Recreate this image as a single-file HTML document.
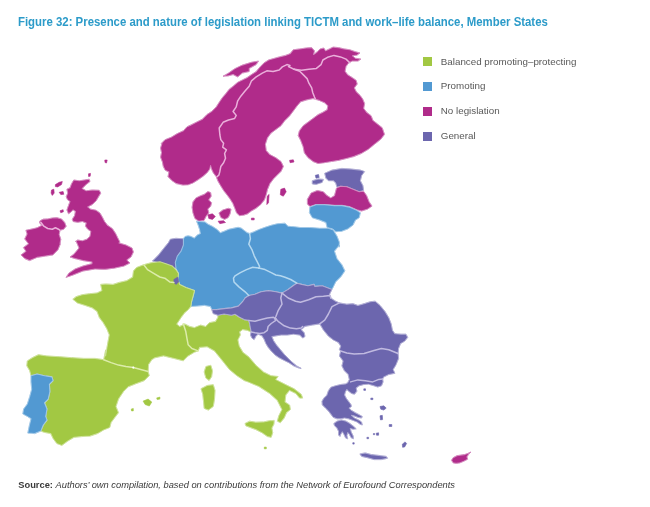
<!DOCTYPE html>
<html><head><meta charset="utf-8"><title>Figure 32</title>
<style>
html,body{margin:0;padding:0;background:#fff;}
body{width:650px;height:507px;position:relative;overflow:hidden;font-family:"Liberation Sans",sans-serif;}
#title,.lt,#src{filter:blur(0.3px);}
#title{position:absolute;left:18.3px;top:15px;font-size:11.9px;transform:scaleX(0.958);font-weight:bold;color:#2c9bc9;white-space:nowrap;transform-origin:0 0;line-height:14px;}
#map{position:absolute;left:0;top:0;filter:blur(0.6px);}
.lg{position:absolute;left:422.8px;width:9px;height:8.8px;}
.lt{position:absolute;left:440.8px;font-size:9.8px;color:#585858;white-space:nowrap;line-height:12px;transform-origin:0 0;}
#src{position:absolute;left:18.3px;top:478.5px;font-size:9.3px;color:#3a3a3a;white-space:nowrap;line-height:12px;transform-origin:0 0;}
</style></head><body>
<div id="title">Figure 32: Presence and nature of legislation linking TICTM and work–life balance, Member States</div>
<svg id="map" width="650" height="507" viewBox="0 0 650 507">
<path d="M89.2 179.2 L90.0 181.5 L86.2 184.6 L82.3 188.5 L86.2 190.8 L92.3 190.0 L99.2 190.3 L100.8 193.1 L98.5 196.9 L96.2 200.8 L92.3 204.6 L87.7 206.9 L90.8 209.2 L96.2 210.3 L100.0 213.1 L102.3 216.9 L104.6 221.5 L107.7 225.4 L112.3 228.5 L115.4 233.1 L117.7 237.7 L120.0 242.3 L119.0 243.0 L126.0 245.0 L132.0 248.0 L133.4 252.0 L131.0 257.0 L127.0 260.0 L130.0 263.0 L124.0 266.0 L115.0 268.0 L105.0 269.4 L95.0 269.0 L83.0 271.0 L73.0 275.0 L66.0 277.4 L69.0 273.0 L75.0 269.0 L83.0 266.0 L92.0 263.6 L92.0 262.0 L83.0 260.6 L75.0 258.6 L70.0 257.0 L74.0 254.0 L79.0 248.0 L76.0 241.0 L75.4 241.5 L77.7 240.0 L82.3 240.8 L86.9 239.2 L90.0 236.2 L90.8 231.5 L87.7 229.2 L85.4 226.2 L86.2 223.1 L82.3 221.5 L77.7 222.3 L73.1 221.5 L72.3 219.2 L74.6 215.4 L75.4 211.5 L73.1 210.0 L70.8 212.3 L68.5 213.8 L66.9 210.0 L68.5 205.4 L70.0 201.5 L67.7 200.0 L66.2 196.9 L67.7 193.1 L66.9 189.2 L70.0 187.7 L71.5 183.8 L73.8 180.0 L79.2 180.8 L84.6 180.0Z" fill="#b02b8a" stroke="#b02b8a" stroke-width="0.8" stroke-linejoin="round"/>
<path d="M89.2 179.2 L90.0 181.5 L86.2 184.6 L82.3 188.5 L86.2 190.8 L92.3 190.0 L99.2 190.3 L100.8 193.1 L98.5 196.9 L96.2 200.8 L92.3 204.6 L87.7 206.9 L90.8 209.2 L96.2 210.3 L100.0 213.1 L102.3 216.9 L104.6 221.5 L107.7 225.4 L112.3 228.5 L115.4 233.1 L117.7 237.7 L120.0 242.3 L119.0 243.0 L126.0 245.0 L132.0 248.0 L133.4 252.0 L131.0 257.0 L127.0 260.0 L130.0 263.0 L124.0 266.0 L115.0 268.0 L105.0 269.4 L95.0 269.0 L83.0 271.0 L73.0 275.0 L66.0 277.4 L69.0 273.0 L75.0 269.0 L83.0 266.0 L92.0 263.6 L92.0 262.0 L83.0 260.6 L75.0 258.6 L70.0 257.0 L74.0 254.0 L79.0 248.0 L76.0 241.0 L75.4 241.5 L77.7 240.0 L82.3 240.8 L86.9 239.2 L90.0 236.2 L90.8 231.5 L87.7 229.2 L85.4 226.2 L86.2 223.1 L82.3 221.5 L77.7 222.3 L73.1 221.5 L72.3 219.2 L74.6 215.4 L75.4 211.5 L73.1 210.0 L70.8 212.3 L68.5 213.8 L66.9 210.0 L68.5 205.4 L70.0 201.5 L67.7 200.0 L66.2 196.9 L67.7 193.1 L66.9 189.2 L70.0 187.7 L71.5 183.8 L73.8 180.0 L79.2 180.8 L84.6 180.0Z" fill="none" stroke="#fff" stroke-opacity="0.4" stroke-width="1.1" stroke-linejoin="round"/>
<path d="M40.0 220.8 L43.1 219.2 L47.7 218.9 L52.3 218.0 L56.9 217.7 L61.5 218.9 L64.6 222.3 L66.2 226.2 L63.8 229.2 L60.0 230.3 L59.2 234.6 L60.8 239.2 L60.0 243.8 L60.4 243.8 L57.9 250.0 L53.0 254.9 L45.6 256.1 L37.0 257.4 L29.6 260.6 L24.7 258.6 L21.0 254.9 L25.9 251.2 L23.4 247.5 L28.4 243.8 L24.7 238.9 L27.1 234.0 L25.9 230.3 L32.0 229.0 L37.0 227.8 L41.9 225.3 L39.4 222.9Z" fill="#b02b8a" stroke="#b02b8a" stroke-width="0.8" stroke-linejoin="round"/>
<path d="M40.0 220.8 L43.1 219.2 L47.7 218.9 L52.3 218.0 L56.9 217.7 L61.5 218.9 L64.6 222.3 L66.2 226.2 L63.8 229.2 L60.0 230.3 L59.2 234.6 L60.8 239.2 L60.0 243.8 L60.4 243.8 L57.9 250.0 L53.0 254.9 L45.6 256.1 L37.0 257.4 L29.6 260.6 L24.7 258.6 L21.0 254.9 L25.9 251.2 L23.4 247.5 L28.4 243.8 L24.7 238.9 L27.1 234.0 L25.9 230.3 L32.0 229.0 L37.0 227.8 L41.9 225.3 L39.4 222.9Z" fill="none" stroke="#fff" stroke-opacity="0.4" stroke-width="1.1" stroke-linejoin="round"/>
<path d="M55.4 184.6 L59.2 182.3 L62.3 181.5 L61.5 184.6 L57.7 186.9 L55.4 186.6Z" fill="#b02b8a" stroke="#b02b8a" stroke-width="0.6" stroke-linejoin="round"/>
<path d="M51.5 190.0 L53.8 189.2 L54.2 193.1 L52.3 195.4 L51.1 193.1Z" fill="#b02b8a" stroke="#b02b8a" stroke-width="0.6" stroke-linejoin="round"/>
<path d="M59.2 192.3 L63.1 191.5 L63.8 194.3 L60.8 194.6Z" fill="#b02b8a" stroke="#b02b8a" stroke-width="0.6" stroke-linejoin="round"/>
<path d="M60.0 210.8 L63.1 209.7 L63.4 211.8 L60.8 212.8Z" fill="#b02b8a" stroke="#b02b8a" stroke-width="0.6" stroke-linejoin="round"/>
<path d="M88.5 173.8 L90.5 173.4 L90.2 176.2 L88.6 176.5Z" fill="#b02b8a" stroke="#b02b8a" stroke-width="0.6" stroke-linejoin="round"/>
<path d="M104.8 160.0 L107.2 160.0 L106.5 163.0 L105.0 162.5Z" fill="#b02b8a" stroke="#b02b8a" stroke-width="0.6" stroke-linejoin="round"/>
<path d="M161.2 143.5 L164.9 139.8 L171.1 137.3 L177.3 133.6 L183.4 130.7 L187.1 126.7 L190.0 125.4 L196.2 122.3 L202.3 119.2 L206.9 114.6 L211.5 111.5 L216.2 106.9 L219.2 102.3 L222.3 97.7 L226.2 93.1 L229.2 89.2 L233.1 86.2 L237.7 82.3 L242.3 80.0 L246.9 77.7 L251.5 74.6 L256.2 71.5 L260.0 66.9 L263.8 63.1 L268.5 60.0 L273.8 58.5 L279.2 56.9 L285.4 55.4 L290.0 53.8 L293.2 49.8 L299.7 48.9 L306.2 48.0 L311.7 47.6 L314.5 50.8 L313.6 54.5 L317.3 51.7 L320.1 48.9 L323.8 48.0 L325.6 50.8 L329.4 48.9 L333.1 47.1 L338.6 47.6 L344.2 48.9 L349.8 49.8 L355.3 51.7 L360.0 53.0 L357.2 55.0 L352.5 55.8 L355.3 58.2 L360.9 59.1 L358.1 61.0 L352.5 61.0 L348.8 62.8 L346.0 66.5 L345.1 71.2 L347.9 74.9 L352.5 77.7 L356.2 80.4 L357.2 84.1 L354.4 87.9 L356.2 91.6 L360.0 95.3 L362.7 99.0 L364.6 103.6 L363.7 108.3 L366.4 112.0 L371.1 115.7 L372.9 120.3 L377.6 124.0 L382.2 127.7 L384.5 134.4 L380.8 139.3 L374.6 144.2 L368.5 149.2 L361.1 153.6 L353.7 156.6 L346.3 158.5 L338.9 160.3 L331.5 161.5 L324.1 162.7 L317.9 163.5 L313.0 161.5 L308.1 157.8 L304.4 152.9 L303.1 146.7 L300.7 140.5 L298.2 135.6 L299.4 130.7 L303.1 125.7 L308.1 122.0 L313.0 118.4 L317.9 114.7 L322.9 112.2 L327.1 109.7 L327.8 106.0 L324.6 102.8 L319.2 100.4 L313.0 98.6 L306.8 99.9 L300.7 101.8 L297.0 106.0 L293.3 111.0 L289.6 115.9 L284.7 120.8 L281.0 125.7 L276.0 129.4 L271.1 133.1 L267.4 138.1 L265.4 144.2 L266.2 150.4 L269.9 154.6 L276.0 157.8 L281.0 161.5 L283.4 166.4 L281.0 171.4 L277.3 175.1 L273.6 178.8 L269.9 183.7 L267.4 189.8 L266.3 194.4 L264.4 199.9 L260.7 204.6 L256.1 208.3 L251.4 211.0 L247.7 213.8 L244.0 215.1 L239.4 215.7 L236.6 212.9 L234.8 208.3 L232.9 203.6 L230.1 199.0 L227.3 195.3 L223.6 190.6 L220.8 186.0 L218.1 181.4 L216.2 176.7 L213.4 173.0 L211.6 169.3 L210.6 165.6 L209.7 169.3 L206.9 173.0 L203.2 176.2 L198.6 179.5 L193.0 182.9 L188.4 184.7 L182.8 185.1 L176.3 183.6 L171.7 180.4 L168.0 176.7 L168.9 172.1 L165.2 170.2 L163.3 166.5 L162.4 161.9 L160.6 157.3 L161.5 152.6 L160.6 148.0 L162.0 143.3Z" fill="#b02b8a" stroke="#b02b8a" stroke-width="0.8" stroke-linejoin="round"/>
<path d="M161.2 143.5 L164.9 139.8 L171.1 137.3 L177.3 133.6 L183.4 130.7 L187.1 126.7 L190.0 125.4 L196.2 122.3 L202.3 119.2 L206.9 114.6 L211.5 111.5 L216.2 106.9 L219.2 102.3 L222.3 97.7 L226.2 93.1 L229.2 89.2 L233.1 86.2 L237.7 82.3 L242.3 80.0 L246.9 77.7 L251.5 74.6 L256.2 71.5 L260.0 66.9 L263.8 63.1 L268.5 60.0 L273.8 58.5 L279.2 56.9 L285.4 55.4 L290.0 53.8 L293.2 49.8 L299.7 48.9 L306.2 48.0 L311.7 47.6 L314.5 50.8 L313.6 54.5 L317.3 51.7 L320.1 48.9 L323.8 48.0 L325.6 50.8 L329.4 48.9 L333.1 47.1 L338.6 47.6 L344.2 48.9 L349.8 49.8 L355.3 51.7 L360.0 53.0 L357.2 55.0 L352.5 55.8 L355.3 58.2 L360.9 59.1 L358.1 61.0 L352.5 61.0 L348.8 62.8 L346.0 66.5 L345.1 71.2 L347.9 74.9 L352.5 77.7 L356.2 80.4 L357.2 84.1 L354.4 87.9 L356.2 91.6 L360.0 95.3 L362.7 99.0 L364.6 103.6 L363.7 108.3 L366.4 112.0 L371.1 115.7 L372.9 120.3 L377.6 124.0 L382.2 127.7 L384.5 134.4 L380.8 139.3 L374.6 144.2 L368.5 149.2 L361.1 153.6 L353.7 156.6 L346.3 158.5 L338.9 160.3 L331.5 161.5 L324.1 162.7 L317.9 163.5 L313.0 161.5 L308.1 157.8 L304.4 152.9 L303.1 146.7 L300.7 140.5 L298.2 135.6 L299.4 130.7 L303.1 125.7 L308.1 122.0 L313.0 118.4 L317.9 114.7 L322.9 112.2 L327.1 109.7 L327.8 106.0 L324.6 102.8 L319.2 100.4 L313.0 98.6 L306.8 99.9 L300.7 101.8 L297.0 106.0 L293.3 111.0 L289.6 115.9 L284.7 120.8 L281.0 125.7 L276.0 129.4 L271.1 133.1 L267.4 138.1 L265.4 144.2 L266.2 150.4 L269.9 154.6 L276.0 157.8 L281.0 161.5 L283.4 166.4 L281.0 171.4 L277.3 175.1 L273.6 178.8 L269.9 183.7 L267.4 189.8 L266.3 194.4 L264.4 199.9 L260.7 204.6 L256.1 208.3 L251.4 211.0 L247.7 213.8 L244.0 215.1 L239.4 215.7 L236.6 212.9 L234.8 208.3 L232.9 203.6 L230.1 199.0 L227.3 195.3 L223.6 190.6 L220.8 186.0 L218.1 181.4 L216.2 176.7 L213.4 173.0 L211.6 169.3 L210.6 165.6 L209.7 169.3 L206.9 173.0 L203.2 176.2 L198.6 179.5 L193.0 182.9 L188.4 184.7 L182.8 185.1 L176.3 183.6 L171.7 180.4 L168.0 176.7 L168.9 172.1 L165.2 170.2 L163.3 166.5 L162.4 161.9 L160.6 157.3 L161.5 152.6 L160.6 148.0 L162.0 143.3Z" fill="none" stroke="#fff" stroke-opacity="0.4" stroke-width="1.1" stroke-linejoin="round"/>
<path d="M223.1 76.2 L228.5 73.1 L234.6 68.8 L242.3 65.1 L251.5 62.3 L258.5 61.1 L256.2 64.6 L249.2 68.5 L249.2 71.5 L242.3 73.1 L237.7 76.9 L233.1 74.6 L228.5 75.8Z" fill="#b02b8a" stroke="#b02b8a" stroke-width="0.8" stroke-linejoin="round"/>
<path d="M223.1 76.2 L228.5 73.1 L234.6 68.8 L242.3 65.1 L251.5 62.3 L258.5 61.1 L256.2 64.6 L249.2 68.5 L249.2 71.5 L242.3 73.1 L237.7 76.9 L233.1 74.6 L228.5 75.8Z" fill="none" stroke="#fff" stroke-opacity="0.4" stroke-width="1.1" stroke-linejoin="round"/>
<path d="M207.9 191.6 L210.6 192.5 L211.2 196.2 L208.8 199.9 L211.6 202.7 L210.6 206.4 L207.9 209.2 L208.8 212.9 L206.0 216.6 L204.1 220.3 L198.6 221.2 L194.9 218.5 L193.0 212.9 L192.1 207.3 L193.0 201.8 L195.8 198.1 L200.4 195.8 L204.1 194.4Z" fill="#b02b8a" stroke="#b02b8a" stroke-width="0.8" stroke-linejoin="round"/>
<path d="M207.9 191.6 L210.6 192.5 L211.2 196.2 L208.8 199.9 L211.6 202.7 L210.6 206.4 L207.9 209.2 L208.8 212.9 L206.0 216.6 L204.1 220.3 L198.6 221.2 L194.9 218.5 L193.0 212.9 L192.1 207.3 L193.0 201.8 L195.8 198.1 L200.4 195.8 L204.1 194.4Z" fill="none" stroke="#fff" stroke-opacity="0.4" stroke-width="1.1" stroke-linejoin="round"/>
<path d="M207.9 214.8 L212.5 213.8 L215.3 216.6 L212.5 219.4 L208.8 218.5Z" fill="#b02b8a" stroke="#b02b8a" stroke-width="0.6" stroke-linejoin="round"/>
<path d="M219.0 212.9 L222.7 210.1 L228.3 208.3 L231.0 209.2 L230.1 213.8 L228.3 217.5 L224.6 219.4 L220.8 217.5Z" fill="#b02b8a" stroke="#b02b8a" stroke-width="0.8" stroke-linejoin="round"/>
<path d="M219.0 212.9 L222.7 210.1 L228.3 208.3 L231.0 209.2 L230.1 213.8 L228.3 217.5 L224.6 219.4 L220.8 217.5Z" fill="none" stroke="#fff" stroke-opacity="0.4" stroke-width="1.1" stroke-linejoin="round"/>
<path d="M218.1 221.2 L223.6 220.7 L225.5 222.5 L219.9 223.7Z" fill="#b02b8a" stroke="#b02b8a" stroke-width="0.6" stroke-linejoin="round"/>
<path d="M251.4 218.1 L254.2 218.1 L254.2 219.9 L251.4 219.9Z" fill="#b02b8a" stroke="#b02b8a" stroke-width="0.6" stroke-linejoin="round"/>
<path d="M267.2 196.2 L269.1 194.4 L268.5 202.7 L266.8 204.6Z" fill="#b02b8a" stroke="#b02b8a" stroke-width="0.6" stroke-linejoin="round"/>
<path d="M280.8 189.3 L284.5 188.1 L286.2 191.8 L283.3 196.2 L280.3 194.7Z" fill="#b02b8a" stroke="#b02b8a" stroke-width="0.6" stroke-linejoin="round"/>
<path d="M289.6 160.3 L293.3 159.8 L294.0 162.0 L290.1 162.7Z" fill="#b02b8a" stroke="#b02b8a" stroke-width="0.6" stroke-linejoin="round"/>
<path d="M324.7 173.3 L332.0 170.1 L341.9 168.4 L351.8 169.1 L360.4 170.1 L364.6 171.6 L361.6 175.7 L360.4 180.7 L362.9 185.6 L363.6 190.5 L359.2 191.8 L353.0 189.3 L346.8 186.8 L340.7 186.3 L337.0 187.3 L335.7 183.1 L333.3 180.7 L328.4 180.7 L325.9 178.2Z" fill="#6c66ae" stroke="#6c66ae" stroke-width="0.8" stroke-linejoin="round"/>
<path d="M324.7 173.3 L332.0 170.1 L341.9 168.4 L351.8 169.1 L360.4 170.1 L364.6 171.6 L361.6 175.7 L360.4 180.7 L362.9 185.6 L363.6 190.5 L359.2 191.8 L353.0 189.3 L346.8 186.8 L340.7 186.3 L337.0 187.3 L335.7 183.1 L333.3 180.7 L328.4 180.7 L325.9 178.2Z" fill="none" stroke="#fff" stroke-opacity="0.4" stroke-width="1.1" stroke-linejoin="round"/>
<path d="M312.3 180.7 L318.5 179.0 L323.4 179.4 L322.2 182.4 L316.0 184.4 L312.3 183.9Z" fill="#6c66ae" stroke="#6c66ae" stroke-width="0.8" stroke-linejoin="round"/>
<path d="M312.3 180.7 L318.5 179.0 L323.4 179.4 L322.2 182.4 L316.0 184.4 L312.3 183.9Z" fill="none" stroke="#fff" stroke-opacity="0.4" stroke-width="1.1" stroke-linejoin="round"/>
<path d="M315.3 175.3 L318.5 174.5 L319.2 177.5 L316.0 178.2Z" fill="#6c66ae" stroke="#6c66ae" stroke-width="0.6" stroke-linejoin="round"/>
<path d="M307.4 199.2 L311.1 193.0 L317.3 190.5 L323.4 191.8 L327.1 195.5 L330.8 197.9 L334.5 195.5 L336.5 188.1 L340.7 186.3 L346.8 186.8 L353.0 189.3 L359.2 191.8 L363.6 191.3 L366.6 195.5 L369.0 201.6 L372.0 206.1 L367.8 209.0 L361.6 211.0 L356.7 209.8 L349.3 206.6 L341.9 205.3 L334.5 205.3 L324.7 204.6 L316.0 204.6 L309.9 206.6 L307.4 204.1Z" fill="#b02b8a" stroke="#b02b8a" stroke-width="0.8" stroke-linejoin="round"/>
<path d="M307.4 199.2 L311.1 193.0 L317.3 190.5 L323.4 191.8 L327.1 195.5 L330.8 197.9 L334.5 195.5 L336.5 188.1 L340.7 186.3 L346.8 186.8 L353.0 189.3 L359.2 191.8 L363.6 191.3 L366.6 195.5 L369.0 201.6 L372.0 206.1 L367.8 209.0 L361.6 211.0 L356.7 209.8 L349.3 206.6 L341.9 205.3 L334.5 205.3 L324.7 204.6 L316.0 204.6 L309.9 206.6 L307.4 204.1Z" fill="none" stroke="#fff" stroke-opacity="0.4" stroke-width="1.1" stroke-linejoin="round"/>
<path d="M309.9 207.1 L316.0 204.8 L324.7 204.8 L334.5 205.6 L341.9 205.6 L349.3 207.1 L356.7 210.3 L360.4 212.7 L359.2 217.7 L355.5 220.1 L353.0 225.1 L348.1 228.8 L341.9 231.2 L335.7 231.7 L332.0 228.8 L327.1 227.5 L325.9 222.6 L319.7 220.1 L312.3 217.7 L309.4 212.7Z" fill="#5299d2" stroke="#5299d2" stroke-width="0.8" stroke-linejoin="round"/>
<path d="M309.9 207.1 L316.0 204.8 L324.7 204.8 L334.5 205.6 L341.9 205.6 L349.3 207.1 L356.7 210.3 L360.4 212.7 L359.2 217.7 L355.5 220.1 L353.0 225.1 L348.1 228.8 L341.9 231.2 L335.7 231.7 L332.0 228.8 L327.1 227.5 L325.9 222.6 L319.7 220.1 L312.3 217.7 L309.4 212.7Z" fill="none" stroke="#fff" stroke-opacity="0.4" stroke-width="1.1" stroke-linejoin="round"/>
<path d="M152.4 261.0 L158.6 254.8 L163.5 248.6 L168.5 242.5 L170.2 239.3 L175.9 238.3 L183.3 238.8 L188.2 240.0 L187.0 249.9 L183.3 259.7 L180.8 268.4 L172.2 268.4 L166.0 264.2 L158.6 262.7Z" fill="#6c66ae" stroke="#6c66ae" stroke-width="0.8" stroke-linejoin="round"/>
<path d="M152.4 261.0 L158.6 254.8 L163.5 248.6 L168.5 242.5 L170.2 239.3 L175.9 238.3 L183.3 238.8 L188.2 240.0 L187.0 249.9 L183.3 259.7 L180.8 268.4 L172.2 268.4 L166.0 264.2 L158.6 262.7Z" fill="none" stroke="#fff" stroke-opacity="0.4" stroke-width="1.1" stroke-linejoin="round"/>
<path d="M183.4 238.6 L185.0 236.5 L188.1 235.8 L191.2 236.5 L194.2 238.1 L197.3 235.0 L200.4 233.5 L199.6 229.6 L198.1 225.0 L196.5 221.2 L205.0 221.9 L208.1 224.2 L212.7 226.5 L217.3 229.6 L220.4 232.7 L224.2 231.2 L228.8 229.3 L234.2 228.1 L238.1 227.3 L241.2 228.1 L244.2 230.4 L247.3 232.7 L249.6 233.5 L253.5 231.9 L258.8 229.6 L265.0 227.3 L271.2 225.3 L277.3 223.8 L285.0 223.2 L288.2 226.3 L294.4 226.8 L300.0 227.5 L309.9 227.5 L319.7 228.3 L328.4 228.3 L333.3 230.0 L337.0 236.1 L339.4 242.3 L339.0 247.2 L339.4 245.0 L334.5 251.2 L337.0 258.6 L341.9 264.7 L344.9 270.9 L340.7 277.0 L335.7 282.0 L333.3 286.9 L332.0 289.4 L322.2 285.7 L314.8 286.4 L314.1 284.4 L307.9 285.7 L301.8 284.4 L296.8 283.2 L293.1 285.7 L288.2 289.4 L282.0 293.1 L275.9 291.8 L268.5 290.6 L261.1 291.8 L254.9 294.3 L248.8 295.5 L245.1 298.0 L242.6 301.7 L238.4 306.1 L231.5 307.9 L224.1 308.6 L216.7 309.6 L211.8 309.6 L210.5 306.6 L204.4 305.4 L197.0 306.1 L190.8 306.6 L191.6 301.7 L193.3 295.5 L194.5 290.6 L185.9 287.4 L179.7 284.4 L177.8 279.5 L178.5 273.4 L176.0 268.4 L175.3 262.3 L177.3 256.1 L181.0 251.2 L183.4 245.0Z" fill="#5299d2" stroke="#5299d2" stroke-width="0.8" stroke-linejoin="round"/>
<path d="M183.4 238.6 L185.0 236.5 L188.1 235.8 L191.2 236.5 L194.2 238.1 L197.3 235.0 L200.4 233.5 L199.6 229.6 L198.1 225.0 L196.5 221.2 L205.0 221.9 L208.1 224.2 L212.7 226.5 L217.3 229.6 L220.4 232.7 L224.2 231.2 L228.8 229.3 L234.2 228.1 L238.1 227.3 L241.2 228.1 L244.2 230.4 L247.3 232.7 L249.6 233.5 L253.5 231.9 L258.8 229.6 L265.0 227.3 L271.2 225.3 L277.3 223.8 L285.0 223.2 L288.2 226.3 L294.4 226.8 L300.0 227.5 L309.9 227.5 L319.7 228.3 L328.4 228.3 L333.3 230.0 L337.0 236.1 L339.4 242.3 L339.0 247.2 L339.4 245.0 L334.5 251.2 L337.0 258.6 L341.9 264.7 L344.9 270.9 L340.7 277.0 L335.7 282.0 L333.3 286.9 L332.0 289.4 L322.2 285.7 L314.8 286.4 L314.1 284.4 L307.9 285.7 L301.8 284.4 L296.8 283.2 L293.1 285.7 L288.2 289.4 L282.0 293.1 L275.9 291.8 L268.5 290.6 L261.1 291.8 L254.9 294.3 L248.8 295.5 L245.1 298.0 L242.6 301.7 L238.4 306.1 L231.5 307.9 L224.1 308.6 L216.7 309.6 L211.8 309.6 L210.5 306.6 L204.4 305.4 L197.0 306.1 L190.8 306.6 L191.6 301.7 L193.3 295.5 L194.5 290.6 L185.9 287.4 L179.7 284.4 L177.8 279.5 L178.5 273.4 L176.0 268.4 L175.3 262.3 L177.3 256.1 L181.0 251.2 L183.4 245.0Z" fill="none" stroke="#fff" stroke-opacity="0.4" stroke-width="1.1" stroke-linejoin="round"/>
<path d="M151.2 262.7 L143.8 264.7 L136.4 267.6 L133.5 270.8 L132.7 277.0 L126.6 280.7 L119.2 282.4 L113.0 284.4 L105.6 283.9 L100.7 284.4 L101.9 290.5 L97.0 293.0 L89.6 293.7 L82.2 294.7 L76.0 296.7 L72.8 299.2 L77.3 302.9 L84.7 305.3 L92.0 307.8 L97.0 311.5 L99.4 317.7 L103.1 322.6 L106.8 328.8 L109.3 334.9 L108.1 341.1 L106.8 348.5 L105.6 355.9 L105.7 349.8 L103.7 359.7 L95.1 358.4 L84.0 358.4 L71.6 357.7 L59.3 356.7 L47.0 356.0 L38.4 354.7 L32.2 357.7 L27.3 360.9 L26.8 365.8 L29.7 370.7 L31.0 375.7 L37.1 374.0 L44.5 375.7 L51.9 376.9 L53.1 380.6 L49.4 384.3 L49.9 391.7 L48.2 399.1 L44.5 402.8 L47.0 409.0 L45.7 416.4 L47.0 420.1 L43.3 425.0 L40.8 431.1 L44.5 432.4 L50.7 433.6 L53.1 438.5 L56.8 443.5 L61.8 445.4 L67.9 441.0 L74.1 437.3 L81.5 436.6 L90.1 436.1 L97.5 433.6 L103.7 429.9 L109.8 427.4 L111.1 422.5 L114.8 417.6 L118.5 412.7 L116.0 406.5 L118.5 399.1 L123.4 391.7 L128.3 386.8 L135.7 383.8 L144.4 380.6 L149.3 375.7 L148.1 371.5 L148.6 364.6 L151.8 359.7 L154.9 357.8 L163.5 355.9 L173.4 358.3 L183.3 360.8 L188.2 355.9 L194.4 352.2 L198.1 350.9 L199.7 347.3 L207.1 346.8 L214.5 351.0 L219.4 357.1 L224.4 363.3 L229.3 369.4 L236.7 375.6 L244.1 380.5 L248.1 381.9 L258.8 386.5 L269.6 393.5 L277.3 400.4 L281.9 409.6 L278.8 415.8 L277.3 421.2 L280.4 422.7 L284.2 418.1 L286.5 412.7 L290.4 409.6 L289.6 405.0 L285.0 401.9 L285.8 395.0 L289.6 390.4 L295.8 393.5 L299.6 398.1 L302.7 398.1 L301.2 394.2 L294.2 388.8 L286.5 385.0 L275.8 379.6 L278.1 376.5 L271.2 375.8 L263.5 371.9 L255.8 365.0 L249.0 357.1 L242.9 352.2 L239.2 346.0 L237.9 339.9 L240.4 334.9 L239.6 331.9 L242.7 329.6 L247.3 330.4 L251.2 331.9 L250.4 328.1 L249.6 323.5 L248.8 320.4 L244.2 319.6 L239.6 317.3 L235.0 314.2 L231.5 315.3 L224.1 314.0 L217.9 315.3 L217.9 317.2 L215.5 321.4 L209.3 322.7 L205.6 326.4 L200.7 325.1 L194.5 327.6 L189.6 326.4 L184.7 323.9 L179.7 326.4 L176.8 324.1 L181.0 317.7 L184.7 312.8 L188.4 309.6 L190.8 306.6 L191.6 301.7 L193.3 295.5 L194.5 290.6 L185.9 287.4 L179.7 284.4 L177.8 279.5 L178.5 273.4 L176.0 269.7 L172.3 266.0 L167.4 264.2 L160.0 261.8Z" fill="#a2c843" stroke="#a2c843" stroke-width="0.8" stroke-linejoin="round"/>
<path d="M151.2 262.7 L143.8 264.7 L136.4 267.6 L133.5 270.8 L132.7 277.0 L126.6 280.7 L119.2 282.4 L113.0 284.4 L105.6 283.9 L100.7 284.4 L101.9 290.5 L97.0 293.0 L89.6 293.7 L82.2 294.7 L76.0 296.7 L72.8 299.2 L77.3 302.9 L84.7 305.3 L92.0 307.8 L97.0 311.5 L99.4 317.7 L103.1 322.6 L106.8 328.8 L109.3 334.9 L108.1 341.1 L106.8 348.5 L105.6 355.9 L105.7 349.8 L103.7 359.7 L95.1 358.4 L84.0 358.4 L71.6 357.7 L59.3 356.7 L47.0 356.0 L38.4 354.7 L32.2 357.7 L27.3 360.9 L26.8 365.8 L29.7 370.7 L31.0 375.7 L37.1 374.0 L44.5 375.7 L51.9 376.9 L53.1 380.6 L49.4 384.3 L49.9 391.7 L48.2 399.1 L44.5 402.8 L47.0 409.0 L45.7 416.4 L47.0 420.1 L43.3 425.0 L40.8 431.1 L44.5 432.4 L50.7 433.6 L53.1 438.5 L56.8 443.5 L61.8 445.4 L67.9 441.0 L74.1 437.3 L81.5 436.6 L90.1 436.1 L97.5 433.6 L103.7 429.9 L109.8 427.4 L111.1 422.5 L114.8 417.6 L118.5 412.7 L116.0 406.5 L118.5 399.1 L123.4 391.7 L128.3 386.8 L135.7 383.8 L144.4 380.6 L149.3 375.7 L148.1 371.5 L148.6 364.6 L151.8 359.7 L154.9 357.8 L163.5 355.9 L173.4 358.3 L183.3 360.8 L188.2 355.9 L194.4 352.2 L198.1 350.9 L199.7 347.3 L207.1 346.8 L214.5 351.0 L219.4 357.1 L224.4 363.3 L229.3 369.4 L236.7 375.6 L244.1 380.5 L248.1 381.9 L258.8 386.5 L269.6 393.5 L277.3 400.4 L281.9 409.6 L278.8 415.8 L277.3 421.2 L280.4 422.7 L284.2 418.1 L286.5 412.7 L290.4 409.6 L289.6 405.0 L285.0 401.9 L285.8 395.0 L289.6 390.4 L295.8 393.5 L299.6 398.1 L302.7 398.1 L301.2 394.2 L294.2 388.8 L286.5 385.0 L275.8 379.6 L278.1 376.5 L271.2 375.8 L263.5 371.9 L255.8 365.0 L249.0 357.1 L242.9 352.2 L239.2 346.0 L237.9 339.9 L240.4 334.9 L239.6 331.9 L242.7 329.6 L247.3 330.4 L251.2 331.9 L250.4 328.1 L249.6 323.5 L248.8 320.4 L244.2 319.6 L239.6 317.3 L235.0 314.2 L231.5 315.3 L224.1 314.0 L217.9 315.3 L217.9 317.2 L215.5 321.4 L209.3 322.7 L205.6 326.4 L200.7 325.1 L194.5 327.6 L189.6 326.4 L184.7 323.9 L179.7 326.4 L176.8 324.1 L181.0 317.7 L184.7 312.8 L188.4 309.6 L190.8 306.6 L191.6 301.7 L193.3 295.5 L194.5 290.6 L185.9 287.4 L179.7 284.4 L177.8 279.5 L178.5 273.4 L176.0 269.7 L172.3 266.0 L167.4 264.2 L160.0 261.8Z" fill="none" stroke="#fff" stroke-opacity="0.4" stroke-width="1.1" stroke-linejoin="round"/>
<path d="M205.9 366.5 L210.8 365.3 L212.5 370.7 L211.6 376.8 L209.1 380.5 L205.9 378.1 L204.2 371.9Z" fill="#a2c843" stroke="#a2c843" stroke-width="0.8" stroke-linejoin="round"/>
<path d="M205.9 366.5 L210.8 365.3 L212.5 370.7 L211.6 376.8 L209.1 380.5 L205.9 378.1 L204.2 371.9Z" fill="none" stroke="#fff" stroke-opacity="0.4" stroke-width="1.1" stroke-linejoin="round"/>
<path d="M201.0 388.7 L207.1 385.5 L213.3 384.7 L215.0 390.4 L214.5 399.0 L213.3 406.4 L208.4 410.1 L204.2 408.4 L203.4 400.3 L202.7 394.1Z" fill="#a2c843" stroke="#a2c843" stroke-width="0.8" stroke-linejoin="round"/>
<path d="M201.0 388.7 L207.1 385.5 L213.3 384.7 L215.0 390.4 L214.5 399.0 L213.3 406.4 L208.4 410.1 L204.2 408.4 L203.4 400.3 L202.7 394.1Z" fill="none" stroke="#fff" stroke-opacity="0.4" stroke-width="1.1" stroke-linejoin="round"/>
<path d="M245.0 423.5 L249.6 421.2 L255.8 422.2 L263.5 421.9 L269.6 420.7 L274.2 420.4 L273.9 424.2 L271.9 428.1 L272.7 432.7 L271.2 437.3 L267.3 436.5 L261.9 432.7 L255.8 429.6 L249.6 427.3 L245.8 425.8Z" fill="#a2c843" stroke="#a2c843" stroke-width="0.8" stroke-linejoin="round"/>
<path d="M245.0 423.5 L249.6 421.2 L255.8 422.2 L263.5 421.9 L269.6 420.7 L274.2 420.4 L273.9 424.2 L271.9 428.1 L272.7 432.7 L271.2 437.3 L267.3 436.5 L261.9 432.7 L255.8 429.6 L249.6 427.3 L245.8 425.8Z" fill="none" stroke="#fff" stroke-opacity="0.4" stroke-width="1.1" stroke-linejoin="round"/>
<path d="M143.1 401.1 L148.1 399.1 L151.8 402.1 L149.3 406.0 L145.1 404.5Z" fill="#a2c843" stroke="#a2c843" stroke-width="0.6" stroke-linejoin="round"/>
<path d="M156.7 397.9 L159.9 397.1 L159.9 399.1 L157.2 399.6Z" fill="#a2c843" stroke="#a2c843" stroke-width="0.6" stroke-linejoin="round"/>
<path d="M131.3 409.0 L133.3 408.5 L133.3 410.9 L131.5 410.9Z" fill="#a2c843" stroke="#a2c843" stroke-width="0.6" stroke-linejoin="round"/>
<path d="M173.9 279.4 L177.8 277.0 L178.8 281.9 L175.9 284.4 L173.9 282.4Z" fill="#6c66ae" stroke="#6c66ae" stroke-width="0.6" stroke-linejoin="round"/>
<path d="M31.0 375.7 L37.1 374.0 L44.5 375.7 L51.9 376.9 L53.1 380.6 L49.4 384.3 L49.9 391.7 L48.2 399.1 L44.5 402.8 L47.0 409.0 L45.7 416.4 L47.0 420.1 L43.3 425.0 L40.8 431.1 L34.7 433.6 L27.8 433.1 L29.2 426.2 L31.0 418.8 L27.3 416.4 L22.8 413.9 L23.6 409.0 L27.3 404.0 L29.7 396.6 L31.7 389.2 L31.0 381.8Z" fill="#5299d2" stroke="#5299d2" stroke-width="0.8" stroke-linejoin="round"/>
<path d="M31.0 375.7 L37.1 374.0 L44.5 375.7 L51.9 376.9 L53.1 380.6 L49.4 384.3 L49.9 391.7 L48.2 399.1 L44.5 402.8 L47.0 409.0 L45.7 416.4 L47.0 420.1 L43.3 425.0 L40.8 431.1 L34.7 433.6 L27.8 433.1 L29.2 426.2 L31.0 418.8 L27.3 416.4 L22.8 413.9 L23.6 409.0 L27.3 404.0 L29.7 396.6 L31.7 389.2 L31.0 381.8Z" fill="none" stroke="#fff" stroke-opacity="0.4" stroke-width="1.1" stroke-linejoin="round"/>
<path d="M211.8 309.6 L216.7 309.6 L224.1 308.6 L231.5 307.9 L238.4 306.1 L242.6 301.7 L245.1 298.0 L248.8 295.5 L254.9 294.3 L261.1 291.8 L268.5 290.6 L275.9 291.8 L282.0 293.1 L288.2 289.4 L293.1 285.7 L296.8 283.2 L301.8 284.4 L307.9 285.7 L314.1 284.4 L314.8 286.4 L322.2 285.7 L332.0 289.4 L329.6 294.3 L330.8 298.0 L335.7 301.2 L339.4 302.9 L346.8 304.2 L353.0 303.7 L357.9 305.4 L364.1 303.7 L370.3 301.7 L375.2 301.2 L380.1 305.4 L385.1 311.6 L388.8 317.7 L391.2 323.9 L392.4 330.1 L394.9 333.8 L401.1 334.2 L406.0 334.2 L407.7 337.4 L404.8 341.1 L400.6 343.6 L398.6 348.5 L398.1 353.5 L398.6 358.4 L396.1 364.6 L396.1 364.7 L393.2 369.6 L394.9 373.3 L388.8 374.5 L383.8 377.0 L382.6 379.0 L383.1 381.9 L381.5 385.8 L377.7 387.0 L373.1 385.5 L368.5 384.2 L363.8 384.5 L359.2 385.8 L356.2 388.1 L356.9 391.2 L354.6 394.2 L351.5 393.5 L348.5 391.2 L346.9 389.6 L345.4 391.9 L344.6 395.0 L346.2 398.1 L348.5 401.2 L350.8 404.2 L351.5 406.5 L349.2 408.1 L351.5 410.4 L355.4 412.7 L359.2 414.7 L362.3 416.5 L361.5 418.1 L357.7 417.3 L353.8 415.8 L351.5 415.3 L354.6 418.1 L358.5 419.9 L361.5 421.9 L362.3 425.0 L360.0 424.2 L356.9 421.9 L353.1 420.4 L348.5 418.8 L344.6 418.1 L340.8 418.8 L336.9 418.8 L333.1 417.3 L330.8 414.2 L328.5 411.2 L325.4 408.1 L322.3 405.0 L322.0 401.2 L323.8 398.1 L326.9 395.0 L328.5 390.4 L330.8 387.3 L335.4 385.8 L340.8 384.5 L345.4 383.9 L347.7 382.7 L349.3 379.4 L348.1 374.5 L344.4 370.8 L341.9 365.9 L343.1 361.0 L339.4 356.0 L340.7 351.1 L339.4 349.8 L340.7 346.1 L338.2 342.4 L333.3 339.9 L328.4 336.2 L323.4 330.1 L319.7 323.9 L312.3 325.1 L304.9 326.4 L302.5 328.8 L301.2 329.6 L304.2 332.7 L305.0 336.5 L302.7 338.1 L299.6 335.0 L293.5 334.2 L287.3 335.0 L281.2 335.0 L276.5 335.8 L271.9 336.5 L273.5 340.4 L276.5 345.0 L280.4 349.6 L284.2 354.2 L288.1 358.1 L291.9 361.9 L296.5 365.8 L301.2 368.4 L298.1 367.8 L293.5 365.8 L288.8 362.7 L284.2 360.4 L279.6 358.1 L275.0 355.0 L271.2 351.2 L268.1 347.3 L265.8 343.5 L264.2 339.6 L261.9 335.8 L258.1 334.2 L255.8 336.5 L254.2 339.6 L251.9 338.1 L250.4 335.0 L251.2 331.9 L250.4 328.1 L249.6 323.5 L248.8 320.4 L244.2 319.6 L239.6 317.3 L235.0 314.2 L231.5 315.3 L224.1 314.0 L217.9 315.3 L213.0 313.5Z" fill="#6c66ae" stroke="#6c66ae" stroke-width="0.8" stroke-linejoin="round"/>
<path d="M211.8 309.6 L216.7 309.6 L224.1 308.6 L231.5 307.9 L238.4 306.1 L242.6 301.7 L245.1 298.0 L248.8 295.5 L254.9 294.3 L261.1 291.8 L268.5 290.6 L275.9 291.8 L282.0 293.1 L288.2 289.4 L293.1 285.7 L296.8 283.2 L301.8 284.4 L307.9 285.7 L314.1 284.4 L314.8 286.4 L322.2 285.7 L332.0 289.4 L329.6 294.3 L330.8 298.0 L335.7 301.2 L339.4 302.9 L346.8 304.2 L353.0 303.7 L357.9 305.4 L364.1 303.7 L370.3 301.7 L375.2 301.2 L380.1 305.4 L385.1 311.6 L388.8 317.7 L391.2 323.9 L392.4 330.1 L394.9 333.8 L401.1 334.2 L406.0 334.2 L407.7 337.4 L404.8 341.1 L400.6 343.6 L398.6 348.5 L398.1 353.5 L398.6 358.4 L396.1 364.6 L396.1 364.7 L393.2 369.6 L394.9 373.3 L388.8 374.5 L383.8 377.0 L382.6 379.0 L383.1 381.9 L381.5 385.8 L377.7 387.0 L373.1 385.5 L368.5 384.2 L363.8 384.5 L359.2 385.8 L356.2 388.1 L356.9 391.2 L354.6 394.2 L351.5 393.5 L348.5 391.2 L346.9 389.6 L345.4 391.9 L344.6 395.0 L346.2 398.1 L348.5 401.2 L350.8 404.2 L351.5 406.5 L349.2 408.1 L351.5 410.4 L355.4 412.7 L359.2 414.7 L362.3 416.5 L361.5 418.1 L357.7 417.3 L353.8 415.8 L351.5 415.3 L354.6 418.1 L358.5 419.9 L361.5 421.9 L362.3 425.0 L360.0 424.2 L356.9 421.9 L353.1 420.4 L348.5 418.8 L344.6 418.1 L340.8 418.8 L336.9 418.8 L333.1 417.3 L330.8 414.2 L328.5 411.2 L325.4 408.1 L322.3 405.0 L322.0 401.2 L323.8 398.1 L326.9 395.0 L328.5 390.4 L330.8 387.3 L335.4 385.8 L340.8 384.5 L345.4 383.9 L347.7 382.7 L349.3 379.4 L348.1 374.5 L344.4 370.8 L341.9 365.9 L343.1 361.0 L339.4 356.0 L340.7 351.1 L339.4 349.8 L340.7 346.1 L338.2 342.4 L333.3 339.9 L328.4 336.2 L323.4 330.1 L319.7 323.9 L312.3 325.1 L304.9 326.4 L302.5 328.8 L301.2 329.6 L304.2 332.7 L305.0 336.5 L302.7 338.1 L299.6 335.0 L293.5 334.2 L287.3 335.0 L281.2 335.0 L276.5 335.8 L271.9 336.5 L273.5 340.4 L276.5 345.0 L280.4 349.6 L284.2 354.2 L288.1 358.1 L291.9 361.9 L296.5 365.8 L301.2 368.4 L298.1 367.8 L293.5 365.8 L288.8 362.7 L284.2 360.4 L279.6 358.1 L275.0 355.0 L271.2 351.2 L268.1 347.3 L265.8 343.5 L264.2 339.6 L261.9 335.8 L258.1 334.2 L255.8 336.5 L254.2 339.6 L251.9 338.1 L250.4 335.0 L251.2 331.9 L250.4 328.1 L249.6 323.5 L248.8 320.4 L244.2 319.6 L239.6 317.3 L235.0 314.2 L231.5 315.3 L224.1 314.0 L217.9 315.3 L213.0 313.5Z" fill="none" stroke="#fff" stroke-opacity="0.4" stroke-width="1.1" stroke-linejoin="round"/>
<path d="M333.8 423.5 L336.9 421.2 L341.5 419.9 L346.2 421.2 L350.0 423.5 L353.8 426.5 L356.2 428.8 L353.1 429.2 L350.3 428.5 L351.2 431.9 L353.1 435.8 L353.4 438.8 L351.2 437.8 L349.2 434.2 L347.7 432.7 L346.9 435.8 L347.7 438.8 L345.7 438.1 L343.8 434.2 L342.3 431.9 L340.8 434.2 L340.0 436.5 L338.5 435.0 L338.5 431.2 L336.9 428.1 L334.6 425.8Z" fill="#6c66ae" stroke="#6c66ae" stroke-width="0.8" stroke-linejoin="round"/>
<path d="M333.8 423.5 L336.9 421.2 L341.5 419.9 L346.2 421.2 L350.0 423.5 L353.8 426.5 L356.2 428.8 L353.1 429.2 L350.3 428.5 L351.2 431.9 L353.1 435.8 L353.4 438.8 L351.2 437.8 L349.2 434.2 L347.7 432.7 L346.9 435.8 L347.7 438.8 L345.7 438.1 L343.8 434.2 L342.3 431.9 L340.8 434.2 L340.0 436.5 L338.5 435.0 L338.5 431.2 L336.9 428.1 L334.6 425.8Z" fill="none" stroke="#fff" stroke-opacity="0.4" stroke-width="1.1" stroke-linejoin="round"/>
<path d="M359.9 453.9 L365.3 452.9 L371.5 454.6 L378.9 455.4 L386.3 456.4 L387.5 458.3 L381.4 459.6 L374.0 459.6 L367.8 457.8 L361.6 456.4Z" fill="#6c66ae" stroke="#6c66ae" stroke-width="0.8" stroke-linejoin="round"/>
<path d="M359.9 453.9 L365.3 452.9 L371.5 454.6 L378.9 455.4 L386.3 456.4 L387.5 458.3 L381.4 459.6 L374.0 459.6 L367.8 457.8 L361.6 456.4Z" fill="none" stroke="#fff" stroke-opacity="0.4" stroke-width="1.1" stroke-linejoin="round"/>
<path d="M380.0 406.5 L383.8 405.8 L386.2 408.1 L383.8 410.1 L380.8 409.2Z" fill="#6c66ae" stroke="#6c66ae" stroke-width="0.6" stroke-linejoin="round"/>
<path d="M380.0 415.8 L382.3 415.3 L382.6 419.6 L380.5 419.9Z" fill="#6c66ae" stroke="#6c66ae" stroke-width="0.6" stroke-linejoin="round"/>
<path d="M389.2 424.5 L391.8 424.5 L391.8 426.5 L389.2 426.5Z" fill="#6c66ae" stroke="#6c66ae" stroke-width="0.6" stroke-linejoin="round"/>
<path d="M376.2 433.2 L378.6 432.8 L378.6 435.2 L376.5 435.2Z" fill="#6c66ae" stroke="#6c66ae" stroke-width="0.6" stroke-linejoin="round"/>
<path d="M373.4 433.5 L374.6 433.5 L374.6 434.7 L373.4 434.7Z" fill="#6c66ae" stroke="#6c66ae" stroke-width="0.6" stroke-linejoin="round"/>
<path d="M366.9 437.3 L368.6 437.3 L368.6 438.7 L366.9 438.7Z" fill="#6c66ae" stroke="#6c66ae" stroke-width="0.6" stroke-linejoin="round"/>
<path d="M352.8 442.7 L354.2 442.7 L354.2 444.1 L352.8 444.1Z" fill="#6c66ae" stroke="#6c66ae" stroke-width="0.6" stroke-linejoin="round"/>
<path d="M363.8 388.8 L365.5 388.8 L365.5 390.4 L363.8 390.4Z" fill="#6c66ae" stroke="#6c66ae" stroke-width="0.6" stroke-linejoin="round"/>
<path d="M370.8 398.1 L372.9 398.1 L372.9 399.6 L370.8 399.6Z" fill="#6c66ae" stroke="#6c66ae" stroke-width="0.6" stroke-linejoin="round"/>
<path d="M402.3 444.2 L405.1 441.9 L406.6 443.5 L404.6 447.0 L402.6 447.3Z" fill="#6c66ae" stroke="#6c66ae" stroke-width="0.6" stroke-linejoin="round"/>
<path d="M451.5 460.3 L453.1 457.7 L456.9 455.7 L460.8 455.1 L464.6 454.6 L467.7 453.5 L470.8 452.0 L468.5 454.6 L466.9 456.9 L467.7 459.2 L463.8 461.2 L460.0 462.8 L456.2 463.4 L453.1 462.8Z" fill="#b02b8a" stroke="#b02b8a" stroke-width="0.8" stroke-linejoin="round"/>
<path d="M451.5 460.3 L453.1 457.7 L456.9 455.7 L460.8 455.1 L464.6 454.6 L467.7 453.5 L470.8 452.0 L468.5 454.6 L466.9 456.9 L467.7 459.2 L463.8 461.2 L460.0 462.8 L456.2 463.4 L453.1 462.8Z" fill="none" stroke="#fff" stroke-opacity="0.4" stroke-width="1.1" stroke-linejoin="round"/>
<path d="M264.3 447.1 L266.3 447.1 L266.3 448.8 L264.3 448.8Z" fill="#a2c843" stroke="#a2c843" stroke-width="0.6" stroke-linejoin="round"/>
<path d="M217.1 176.7 L219.0 174.9 L219.9 171.2 L220.8 166.5 L223.6 162.8 L225.5 158.2 L224.6 153.5 L226.4 149.8 L222.7 147.1 L223.6 143.3 L220.8 139.6 L219.9 135.0 L219.2 128.0 L223.1 122.3 L228.5 120.0 L234.6 118.5 L236.2 115.4 L233.1 111.5 L236.2 106.9 L237.7 100.8 L240.8 96.2 L244.6 91.5 L249.2 86.2 L251.5 80.8 L256.2 76.9 L262.3 73.1 L266.9 70.8 L273.1 71.5 L279.2 70.0 L282.3 66.9 L286.9 64.6 L290.0 65.4 L288.5 66.5 L294.1 69.3" fill="none" stroke="#eab0db" stroke-width="1.5" stroke-linejoin="round" stroke-linecap="round"/>
<path d="M294.1 69.3 L299.7 71.2 L303.4 74.9 L307.1 78.6 L308.9 83.2 L311.7 87.9 L312.7 92.5 L314.5 97.1 L315.4 99.0" fill="none" stroke="#eab0db" stroke-width="1.5" stroke-linejoin="round" stroke-linecap="round"/>
<path d="M294.1 69.3 L301.5 70.2 L308.9 69.3 L316.4 68.4 L321.0 64.7 L322.9 60.0 L327.5 57.3 L334.0 55.4 L340.5 56.9 L346.0 59.1 L349.8 62.8" fill="none" stroke="#eab0db" stroke-width="1.5" stroke-linejoin="round" stroke-linecap="round"/>
<path d="M40.8 222.3 L43.8 226.2 L47.7 228.5 L52.3 229.2 L55.4 227.7 L58.5 229.2 L60.0 230.3" fill="none" stroke="#eab0db" stroke-width="1.5" stroke-linejoin="round" stroke-linecap="round"/>
<path d="M249.6 233.5 L250.4 238.8 L248.8 244.2 L251.9 249.6 L254.2 255.8 L257.3 261.9 L259.6 266.5 L258.8 268.1" fill="none" stroke="#b4d8f0" stroke-width="1.5" stroke-linejoin="round" stroke-linecap="round"/>
<path d="M258.8 268.1 L252.7 267.3 L246.5 269.6 L240.4 272.7 L235.0 275.8 L233.5 278.1 L234.0 282.0 L238.9 286.9 L245.1 291.8 L248.8 295.5" fill="none" stroke="#b4d8f0" stroke-width="1.5" stroke-linejoin="round" stroke-linecap="round"/>
<path d="M258.8 268.1 L265.0 269.6 L271.2 272.7 L275.8 275.0 L280.4 275.8 L285.0 277.3 L290.7 279.5 L296.8 283.2" fill="none" stroke="#b4d8f0" stroke-width="1.5" stroke-linejoin="round" stroke-linecap="round"/>
<path d="M248.8 320.4 L255.0 321.2 L261.2 319.6 L267.3 318.1 L273.5 317.3 L275.8 318.8" fill="none" stroke="#c0bae0" stroke-width="1.5" stroke-linejoin="round" stroke-linecap="round"/>
<path d="M282.0 293.1 L280.8 298.0 L282.0 304.2 L278.3 310.3 L275.9 316.5 L274.6 319.0" fill="none" stroke="#c0bae0" stroke-width="1.5" stroke-linejoin="round" stroke-linecap="round"/>
<path d="M282.0 293.1 L288.2 298.0 L295.6 301.2 L300.5 302.2 L308.6 299.7 L316.0 296.8 L323.4 296.3 L330.1 295.5 L330.8 298.0" fill="none" stroke="#c0bae0" stroke-width="1.5" stroke-linejoin="round" stroke-linecap="round"/>
<path d="M251.2 331.9 L255.0 332.7 L259.6 333.5 L264.2 332.7 L267.3 330.4 L268.1 326.5 L271.2 323.5 L275.8 320.4 L275.8 318.8" fill="none" stroke="#c0bae0" stroke-width="1.5" stroke-linejoin="round" stroke-linecap="round"/>
<path d="M275.8 318.8 L278.8 321.9 L284.2 325.8 L290.4 328.1 L296.5 328.8 L301.2 328.1 L302.7 326.5" fill="none" stroke="#c0bae0" stroke-width="1.5" stroke-linejoin="round" stroke-linecap="round"/>
<path d="M319.7 323.9 L324.7 320.2 L328.4 314.0 L332.0 306.6 L339.4 302.9" fill="none" stroke="#c0bae0" stroke-width="1.5" stroke-linejoin="round" stroke-linecap="round"/>
<path d="M340.7 351.0 L346.8 353.0 L354.2 354.0 L364.1 353.5 L374.0 350.5 L381.4 348.5 L388.8 349.8 L398.1 353.5" fill="none" stroke="#c0bae0" stroke-width="1.5" stroke-linejoin="round" stroke-linecap="round"/>
<path d="M350.5 381.9 L357.9 379.9 L365.3 380.7 L372.7 381.9 L378.9 379.4 L382.6 379.0" fill="none" stroke="#c0bae0" stroke-width="1.5" stroke-linejoin="round" stroke-linecap="round"/>
<path d="M103.7 359.7 L111.1 362.6 L118.5 365.1 L125.9 366.6 L133.3 367.5 L140.7 369.5 L148.1 371.5" fill="none" stroke="#dcecaa" stroke-width="1.5" stroke-linejoin="round" stroke-linecap="round"/>
<path d="M183.3 323.8 L185.7 331.2 L187.0 338.6 L188.2 344.8 L191.9 348.5 L198.1 350.9" fill="none" stroke="#dcecaa" stroke-width="1.5" stroke-linejoin="round" stroke-linecap="round"/>
<path d="M143.8 264.7 L147.5 269.6 L153.7 273.3 L159.8 277.0 L164.8 278.2 L169.7 281.9 L173.9 282.4" fill="none" stroke="#dcecaa" stroke-width="1.5" stroke-linejoin="round" stroke-linecap="round"/>
<circle cx="133.3" cy="367.6" r="1.1" fill="#fff"/>
</svg>
<div class="lg" style="top:57.3px;background:#a2c843"></div><div class="lt" id="l1" style="top:55.5px">Balanced promoting–protecting</div>
<div class="lg" style="top:82.2px;background:#5299d2"></div><div class="lt" id="l2" style="top:80.3px">Promoting</div>
<div class="lg" style="top:107px;background:#b02b8a"></div><div class="lt" id="l3" style="top:105.1px">No legislation</div>
<div class="lg" style="top:132px;background:#6c66ae"></div><div class="lt" id="l4" style="top:129.9px">General</div>
<div id="src"><b>Source:</b> <i>Authors’ own compilation, based on contributions from the Network of Eurofound Correspondents</i></div>
</body></html>
